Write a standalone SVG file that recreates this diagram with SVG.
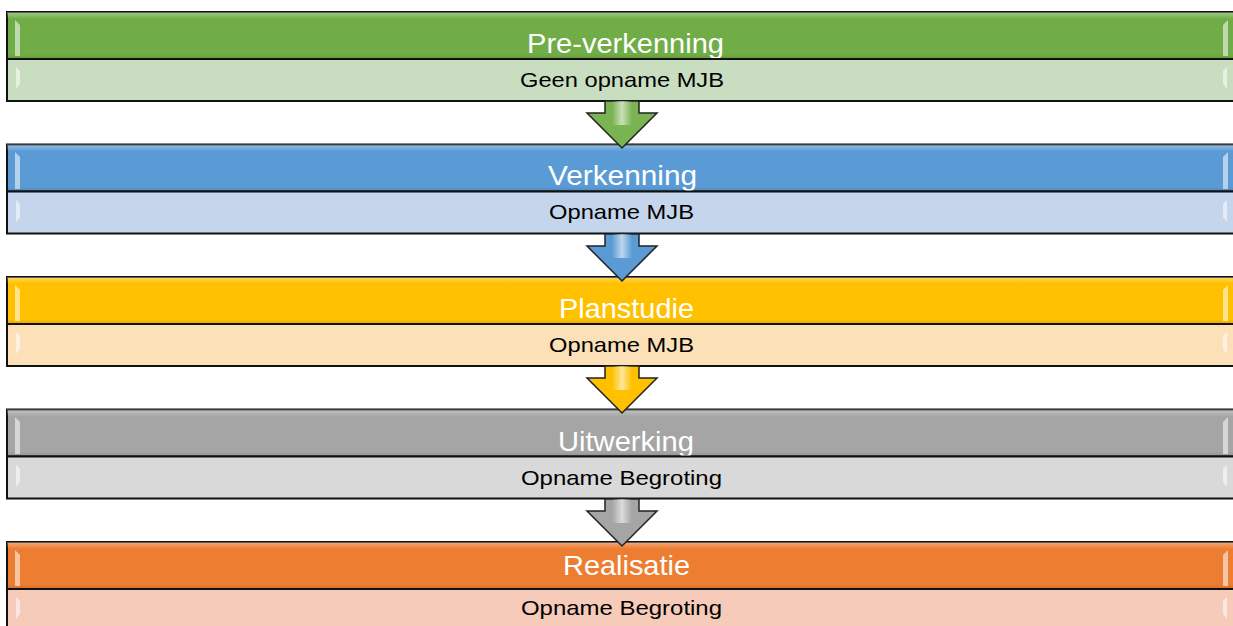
<svg xmlns="http://www.w3.org/2000/svg" width="1233" height="626" viewBox="0 0 1233 626">
<defs>
<style>
.frame{stroke:#111;stroke-width:2}
.t{font-family:"Liberation Sans",Arial,sans-serif;font-size:28px;fill:#fff;text-anchor:middle}
.s{font-family:"Liberation Sans",Arial,sans-serif;font-size:21px;fill:#000;text-anchor:middle}
.hl{fill:#fff;opacity:0.55}
.arrow{stroke:#222;stroke-width:1.5}
</style>
<linearGradient id="shine" x1="0" y1="0" x2="0" y2="1">
<stop offset="0" stop-color="#fff" stop-opacity="0.35"/>
<stop offset="0.15" stop-color="#fff" stop-opacity="0"/>
<stop offset="0.9" stop-color="#000" stop-opacity="0"/>
<stop offset="1" stop-color="#000" stop-opacity="0.12"/>
</linearGradient>
<linearGradient id="ag" x1="0" y1="0" x2="1" y2="0">
<stop offset="0" stop-color="#fff" stop-opacity="0"/>
<stop offset="0.5" stop-color="#fff" stop-opacity="0.6"/>
<stop offset="1" stop-color="#fff" stop-opacity="0"/>
</linearGradient>
</defs>
<rect width="1233" height="626" fill="#fff"/>

<g id="stage1">
<rect x="7" y="12" width="1236" height="47" fill="#70AD47" class="frame"/>
<rect x="7" y="12" width="1236" height="47" fill="url(#shine)"/>
<path d="M15,20 L20,25 L20,56 L15,56 Z" class="hl"/>
<path d="M1228,20 L1223,25 L1223,56 L1228,56 Z" class="hl"/>
<text x="625.5" y="53" class="t" textLength="197" lengthAdjust="spacingAndGlyphs">Pre-verkenning</text>
<rect x="7" y="59" width="1236" height="42" fill="#C9DEC0" class="frame"/>
<path d="M16,67 L20,71 L20,84 L16,89 Z" class="hl"/>
<path d="M1227,67 L1223,71 L1223,84 L1227,89 Z" class="hl"/>
<text x="622" y="87" class="s" textLength="204" lengthAdjust="spacingAndGlyphs">Geen opname MJB</text>
</g>

<g id="stage2">
<rect x="7" y="144.5" width="1236" height="47" fill="#5B9BD5" class="frame"/>
<rect x="7" y="144.5" width="1236" height="47" fill="url(#shine)"/>
<path d="M15,152 L20,157 L20,189 L15,189 Z" class="hl"/>
<path d="M1228,152 L1223,157 L1223,189 L1228,189 Z" class="hl"/>
<text x="622.5" y="185" class="t" textLength="149" lengthAdjust="spacingAndGlyphs">Verkenning</text>
<rect x="7" y="191.5" width="1236" height="42" fill="#C5D5EB" class="frame"/>
<path d="M16,200 L20,204 L20,217 L16,222 Z" class="hl"/>
<path d="M1227,200 L1223,204 L1223,217 L1227,222 Z" class="hl"/>
<text x="621.5" y="219" class="s" textLength="145" lengthAdjust="spacingAndGlyphs">Opname MJB</text>
</g>

<g id="stage3">
<rect x="7" y="277" width="1236" height="47" fill="#FFC000" class="frame"/>
<rect x="7" y="277" width="1236" height="47" fill="url(#shine)"/>
<path d="M15,285 L20,290 L20,321 L15,321 Z" class="hl"/>
<path d="M1228,285 L1223,290 L1223,321 L1228,321 Z" class="hl"/>
<text x="626.5" y="318" class="t" textLength="135" lengthAdjust="spacingAndGlyphs">Planstudie</text>
<rect x="7" y="324" width="1236" height="42" fill="#FBE0B8" class="frame"/>
<path d="M16,332 L20,336 L20,349 L16,354 Z" class="hl"/>
<path d="M1227,332 L1223,336 L1223,349 L1227,354 Z" class="hl"/>
<text x="621.5" y="352" class="s" textLength="145" lengthAdjust="spacingAndGlyphs">Opname MJB</text>
</g>

<g id="stage4">
<rect x="7" y="409.5" width="1236" height="47" fill="#A5A5A5" class="frame"/>
<rect x="7" y="409.5" width="1236" height="47" fill="url(#shine)"/>
<path d="M15,417 L20,422 L20,454 L15,454 Z" class="hl"/>
<path d="M1228,417 L1223,422 L1223,454 L1228,454 Z" class="hl"/>
<text x="626" y="451" class="t" textLength="136" lengthAdjust="spacingAndGlyphs">Uitwerking</text>
<rect x="7" y="456.5" width="1236" height="42" fill="#D9D9D9" class="frame"/>
<path d="M16,465 L20,469 L20,482 L16,487 Z" class="hl"/>
<path d="M1227,465 L1223,469 L1223,482 L1227,487 Z" class="hl"/>
<text x="621.5" y="485" class="s" textLength="201" lengthAdjust="spacingAndGlyphs">Opname Begroting</text>
</g>

<g id="stage5">
<rect x="7" y="542" width="1236" height="47" fill="#ED7D31" class="frame"/>
<rect x="7" y="542" width="1236" height="47" fill="url(#shine)"/>
<path d="M15,550 L20,555 L20,586 L15,586 Z" class="hl"/>
<path d="M1228,550 L1223,555 L1223,586 L1228,586 Z" class="hl"/>
<text x="626.5" y="575" class="t" textLength="127" lengthAdjust="spacingAndGlyphs">Realisatie</text>
<rect x="7" y="589" width="1236" height="45" fill="#F6CBB9" class="frame"/>
<path d="M16,597 L20,601 L20,614 L16,619 Z" class="hl"/>
<path d="M1227,597 L1223,601 L1223,614 L1227,619 Z" class="hl"/>
<text x="621.5" y="615" class="s" textLength="201" lengthAdjust="spacingAndGlyphs">Opname Begroting</text>
</g>

<g id="connectors">
<path class="arrow" d="M605,101 L639,101 L639,113 L657,113 L622,148 L587,113 L605,113 Z" fill="#7AB352"/>
<rect x="612" y="101" width="20" height="24" fill="url(#ag)"/>
<path class="arrow" d="M605,234 L639,234 L639,246 L657,246 L622,281 L587,246 L605,246 Z" fill="#5B9BD5"/>
<rect x="612" y="234" width="20" height="24" fill="url(#ag)"/>
<path class="arrow" d="M605,366 L639,366 L639,378 L657,378 L622,413 L587,378 L605,378 Z" fill="#FFC000"/>
<rect x="612" y="366" width="20" height="24" fill="url(#ag)"/>
<path class="arrow" d="M605,499 L639,499 L639,511 L657,511 L622,546 L587,511 L605,511 Z" fill="#A5A5A5"/>
<rect x="612" y="499" width="20" height="24" fill="url(#ag)"/>
</g>
</svg>
